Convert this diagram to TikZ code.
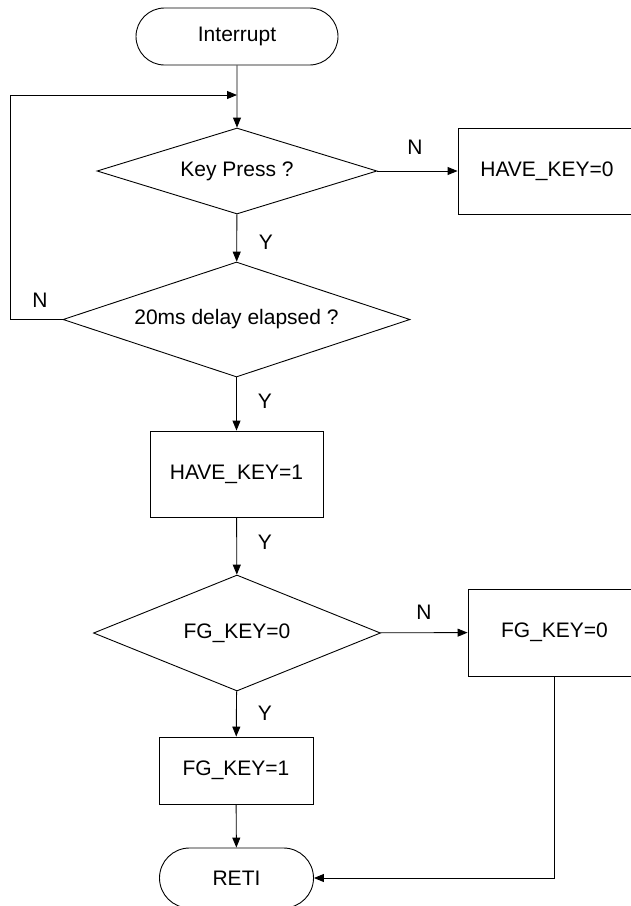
\documentclass[tikz,border=0pt]{standalone}
\usepackage{fontspec}
\setmainfont{Liberation Sans}
\usetikzlibrary{shapes.geometric,shapes.misc,arrows.meta}
\begin{document}
\begin{tikzpicture}[x=1pt,y=-1pt,
  every node/.style={font=\fontsize{21}{25}\selectfont, inner sep=0pt},
  terminal/.style={draw, rounded rectangle, line width=0.9pt},
  decision/.style={draw, diamond, line width=0.9pt},
  process/.style={draw, rectangle, line width=0.9pt},
  flow/.style={line width=0.9pt, -{Triangle[length=10pt,width=8pt]}},
  plain/.style={line width=0.9pt},
  lbl/.style={}]
\useasboundingbox (0,0) rectangle (631,906);

% nodes
\node[terminal, minimum width=202pt, minimum height=57pt] (start) at (237,36.5) {Interrupt};
\node[decision, aspect=3.256, minimum width=280pt, minimum height=86pt] (key) at (237,171) {Key Press ?};
\node[process, minimum width=178pt, minimum height=86pt] (hk0) at (547,171) {HAVE\_KEY=0};
\node[decision, aspect=3.017, minimum width=347pt, minimum height=115pt] (delay) at (236.5,319.5) {20ms delay elapsed ?};
\node[process, minimum width=173pt, minimum height=86pt] (hk1) at (236.5,474) {HAVE\_KEY=1};
\node[decision, aspect=2.474, minimum width=287pt, minimum height=116pt] (fg) at (237,633) {FG\_KEY=0};
\node[process, minimum width=173pt, minimum height=87pt] (fg0) at (554.5,632.5) {FG\_KEY=0};
\node[process, minimum width=154pt, minimum height=67pt] (fg1) at (236,770.5) {FG\_KEY=1};
\node[terminal, minimum width=154pt, minimum height=60pt] (reti) at (236.5,878) {RETI};

\coordinate (join) at (237,95);
\coordinate (corner) at (554.5,878);

% connectors
\draw[flow] (start) -- (key);
\draw[flow] (key) -- (hk0);
\draw[flow] (key) -- (delay);
\draw[flow] (delay.west) -- ++(-52,0) |- (join);
\draw[flow] (delay) -- (hk1);
\draw[flow] (hk1) -- (fg);
\draw[flow] (fg) -- (fg0);
\draw[flow] (fg) -- (fg1);
\draw[flow] (fg1) -- (reti);
\draw[plain] (fg0.south) -- (corner);
\draw[flow] (corner) -- (reti.east);

% branch labels
\node[lbl] (nkey) at (415,147) {N};
\node[lbl] (ykey) at (266,242) {Y};
\node[lbl] (ndelay) at (40,300) {N};
\node[lbl] (ydelay) at (265,401) {Y};
\node[lbl] (yhk1) at (265,542) {Y};
\node[lbl] (nfg) at (424,612) {N};
\node[lbl] (yfg) at (265,713) {Y};
\end{tikzpicture}
\end{document}
